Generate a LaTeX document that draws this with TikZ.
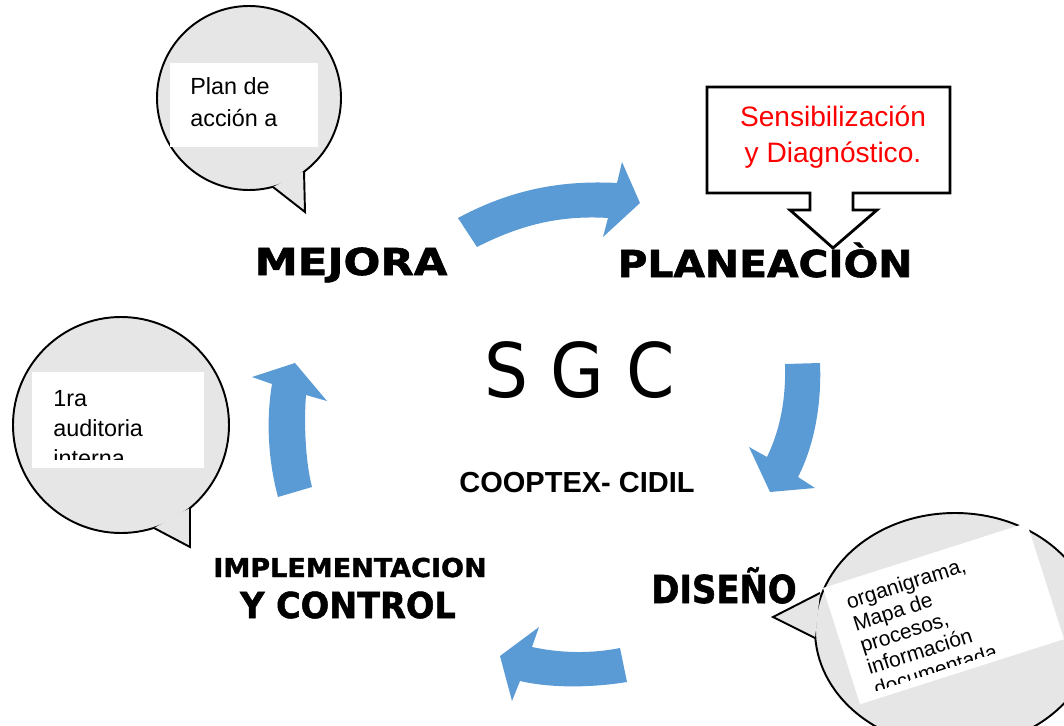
\documentclass[tikz,border=0pt]{standalone}
\usepackage{fontspec}
\newfontfamily\arialfont{Liberation Sans}
\newfontfamily\sgcfont{DejaVu Sans}
\newfontfamily\decofont{DejaVu Sans Bold}[FakeBold=1.5]
\definecolor{flecha}{HTML}{5B9BD5}
\definecolor{globo}{HTML}{E6E6E6}
\tikzset{
  globofill/.style={fill=globo, draw=black, line width=1.1pt, line join=miter},
  etapa/.style={inner sep=0pt, anchor=base},
  textoglobo/.style={font=\arialfont\fontsize{13.3}{16}\selectfont, inner sep=0pt, anchor=base west},
}
\begin{document}
\begin{tikzpicture}[x=0.02cm, y=-0.02cm]
  \useasboundingbox (0,0) rectangle (1064,726);
  \clip (0,0) rectangle (1064,726);

  \fill[flecha] (458,218) .. controls (510,190) and (560,180) .. (617,183) -- (622,162) -- (640,203)
    -- (603,237) -- (608,218) .. controls (560,215) and (520,225) .. (477,247) -- cycle;
  \fill[flecha] (785,364) -- (820,363) .. controls (822,410) and (812,450) .. (798,477) -- (815,488)
    -- (770,492) -- (749,447) -- (767,457) .. controls (780,430) and (786,400) .. (785,364) -- cycle;
  \fill[flecha] (620,648) -- (627,682) .. controls (590,688) and (550,688) .. (520,681) -- (512,701)
    -- (500,656) -- (539,627) -- (532,647) .. controls (560,653) and (590,654) .. (620,648) -- cycle;
  \fill[flecha] (278,497) -- (312,487) .. controls (305,460) and (304,420) .. (306,395) -- (327,401)
    -- (295,363) -- (252,377) -- (272,384) .. controls (266,420) and (268,460) .. (278,497) -- cycle;

  \filldraw[globofill] (249,98) circle[radius=92];
  \filldraw[globofill] (304,171) -- (305,212) -- (273,187);
  \fill[white] (170,63) rectangle (318,147);
  \foreach \t [count=\i] in {Plan de, acción a}
    \node[textoglobo] (plan\i) at (190,95+32*\i-32) {\t};

  \filldraw[globofill] (121,425) circle[radius=108];
  \filldraw[globofill] (190,508) -- (190,547) -- (154,528);
  \fill[white] (32,372) rectangle (204,468);
  \begin{scope}
    \clip (32,372) rectangle (204,459);
    \foreach \t [count=\i] in {1ra, auditoria, interna}
      \node[textoglobo] (audit\i) at (53,406+30*\i-30) {\t};
  \end{scope}

  \filldraw[globofill] (955,630) ellipse[x radius=140, y radius=117];
  \filldraw[globofill] (820,593) -- (773,617) -- (815,638);
  \begin{scope}[shift={(823,588)}, rotate=17.7, transform shape]
    \fill[white] (0,0) rectangle (214,122);
    \clip (0,0) rectangle (214,114);
    \foreach \t [count=\i] in {{organigrama,}, {Mapa de}, {procesos,}, {información}, {documentada}}
      \node[textoglobo, font=\arialfont\fontsize{12}{14}\selectfont] (doc\i) at (18,28+23*\i-23) {\t};
  \end{scope}

  \filldraw[fill=white, line width=1.6pt, line join=miter] (707,87) -- (950,87) -- (950,193) -- (853,193)
    -- (853,210) -- (877,210) -- (833,248) -- (790,210) -- (810,210) -- (810,193) -- (707,193) -- cycle;
  \node[font=\arialfont\fontsize{16}{20}\selectfont, text=red, inner sep=0pt, anchor=base] (sens) at (833,127) {Sensibilización};
  \node[font=\arialfont\fontsize{16}{20}\selectfont, text=red, inner sep=0pt, anchor=base] (diag) at (833,163) {y Diagnóstico.};

  \node[etapa, font=\decofont\fontsize{21.1}{26}\selectfont, xscale=1.17] (mejora) at (351,275) {MEJORA};
  \node[etapa, font=\decofont\fontsize{21.1}{26}\selectfont, xscale=1.10] (planeacion) at (765,277) {PLANEACIÒN};
  \node[etapa, font=\decofont\fontsize{21.9}{26}\selectfont, xscale=0.88] (diseno) at (724,603) {DISEÑO};
  \node[etapa, font=\decofont\fontsize{14.8}{18}\selectfont, xscale=1.04] (implem) at (350,577) {IMPLEMENTACION};
  \node[etapa, font=\decofont\fontsize{20.3}{24}\selectfont, xscale=0.94] (control) at (348,618) {Y CONTROL};

  \node[inner sep=0pt, anchor=base, xscale=0.92, font=\sgcfont\fontsize{42.9}{48}\selectfont] (sgc) at (580,397) {S G C};
  \node[inner sep=0pt, anchor=base, font=\arialfont\bfseries\fontsize{16.5}{20}\selectfont] (coop) at (577,492) {COOPTEX- CIDIL};
\end{tikzpicture}
\end{document}
